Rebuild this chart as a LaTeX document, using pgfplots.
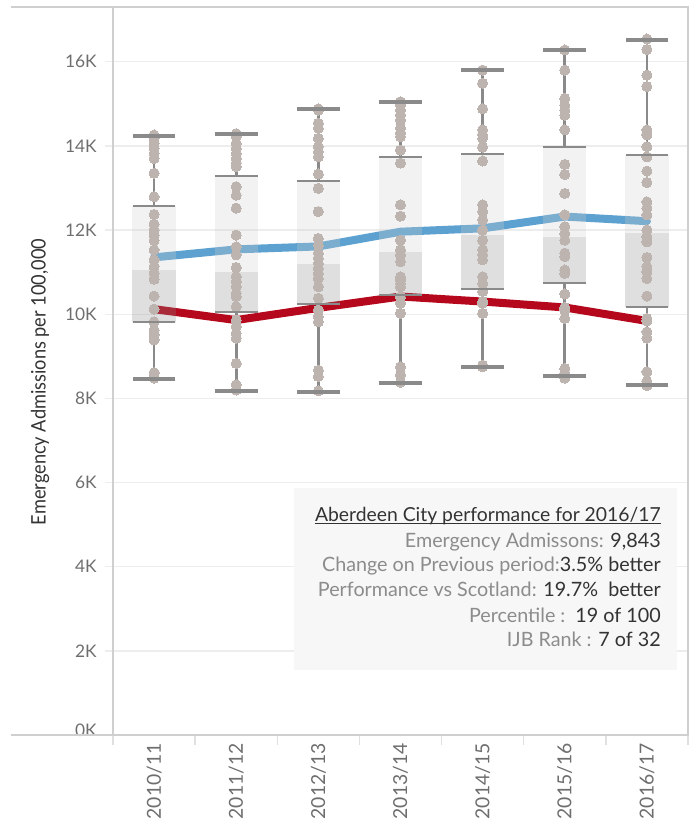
\documentclass[border=0pt]{standalone}
\usepackage{graphicx}
\usepackage{pgfplots}
\pgfplotsset{compat=1.18}
\usepackage{pgfplotstable}
\usepackage{fontspec}
\setmainfont{Lato}
\definecolor{whisk}{HTML}{8A8A8A}
\definecolor{dotc}{HTML}{BDB3AF}
\definecolor{blueL}{HTML}{5CA1CF}
\definecolor{redL}{HTML}{B5081D}
\definecolor{tickc}{HTML}{6E6E6E}
\definecolor{labc}{HTML}{8C8C8C}
\definecolor{valc}{HTML}{333333}
\definecolor{framec}{HTML}{CFCFCF}
\definecolor{gridc}{HTML}{EDEDED}
\definecolor{annbg}{HTML}{F7F7F7}

\pgfplotstableread{
x lo q1 med q3 hi blue red
0 8.46 9.82 11.05 12.58 14.24 11.35 10.12
1 8.18 10.05 11.00 13.29 14.29 11.54 9.86
2 8.16 10.25 11.19 13.17 14.88 11.61 10.15
3 8.36 10.46 11.47 13.74 15.05 11.96 10.42
4 8.75 10.61 11.88 13.81 15.80 12.04 10.30
5 8.52 10.74 11.83 13.98 16.28 12.32 10.16
6 8.32 10.18 11.94 13.78 16.52 12.21 9.84
}\stats

\pgfplotstableread{
x y
0 14.26
0 14.18
0 14.06
0 13.94
0 13.82
0 13.70
0 13.35
0 12.79
0 12.37
0 12.14
0 12.00
0 11.88
0 11.75
0 11.53
0 11.29
0 11.13
0 10.97
0 10.83
0 10.43
0 10.12
0 9.82
0 9.62
0 9.51
0 9.39
0 8.61
0 8.48
1 14.29
1 14.22
1 14.06
1 13.94
1 13.82
1 13.70
1 13.59
1 13.51
1 13.03
1 12.83
1 12.52
1 11.88
1 11.60
1 11.41
1 11.11
1 10.89
1 10.77
1 10.65
1 10.50
1 10.42
1 10.18
1 9.86
1 9.70
1 9.55
1 9.43
1 8.83
1 8.32
1 8.20
2 14.88
2 14.85
2 14.54
2 14.42
2 14.18
2 13.98
2 13.86
2 13.74
2 13.33
2 12.99
2 12.44
2 11.80
2 11.64
2 11.45
2 11.33
2 11.21
2 11.09
2 10.97
2 10.85
2 10.65
2 10.38
2 10.10
2 9.94
2 9.82
2 8.67
2 8.52
2 8.18
3 15.05
3 14.97
3 14.85
3 14.73
3 14.61
3 14.42
3 14.30
3 14.22
3 13.90
3 13.59
3 12.60
3 12.33
3 11.76
3 11.53
3 11.41
3 11.25
3 10.89
3 10.81
3 10.73
3 10.65
3 10.40
3 10.26
3 10.02
3 8.75
3 8.56
3 8.38
4 15.80
4 15.49
4 14.88
4 14.38
4 14.26
4 14.18
4 13.97
4 13.64
4 12.60
4 12.44
4 12.24
4 12.00
4 11.76
4 11.53
4 11.41
4 11.29
4 10.89
4 10.73
4 10.54
4 10.30
4 10.26
4 10.02
4 8.79
4 8.75
5 16.28
5 15.80
5 15.13
5 14.97
5 14.85
5 14.73
5 14.38
5 13.56
5 13.32
5 12.87
5 12.36
5 12.08
5 11.92
5 11.76
5 11.45
5 11.37
5 11.05
5 10.97
5 10.48
5 10.16
5 10.10
5 9.90
5 8.71
5 8.60
5 8.48
6 16.54
6 16.29
6 15.68
6 15.41
6 14.38
6 14.26
6 13.98
6 13.74
6 13.40
6 13.13
6 12.67
6 12.52
6 12.36
6 12.00
6 11.84
6 11.72
6 11.35
6 11.13
6 11.01
6 10.85
6 10.43
6 9.90
6 9.84
6 9.58
6 9.43
6 8.63
6 8.40
6 8.30
}\dotsdata

\begin{document}
\begin{tikzpicture}
\path[use as bounding box] (-84.75pt,-70.5pt) rectangle (435.75pt,551.25pt);
\begin{axis}[
  at={(0,0)}, anchor=south west,
  scale only axis, width=431.25pt, height=546pt,
  xmin=-0.5, xmax=6.5, ymin=0, ymax=17.3,
  clip=false,
  axis line style={draw=framec, line width=1pt},
  tick pos=left,
  xtick={0,1,2,3,4,5,6},
  xticklabels={2010/11,2011/12,2012/13,2013/14,2014/15,2015/16,2016/17},
  minor xtick={-0.5,0.5,1.5,2.5,3.5,4.5,5.5,6.5},
  ytick={0,2,4,6,8,10,12,14,16},
  yticklabels={\raisebox{7.5pt}{0K},2K,4K,6K,8K,10K,12K,14K,16K},
  ymajorgrids, major grid style={draw=gridc, line width=1pt},
  tick align=outside,
  major tick length=6pt, minor tick length=7.5pt,
  major x tick style={draw=none},
  minor x tick style={draw=black!12, line width=1pt},
  major y tick style={draw=gridc, line width=1pt},
  yticklabel style={font=\fontsize{13}{15}\selectfont, text=tickc, inner sep=0pt, xshift=-6pt},
  xticklabel style={font=\fontsize{14.5}{16}\selectfont, text=tickc, rotate=90, anchor=east, inner sep=0pt},
  ylabel={\scalebox{0.91}[1]{Emergency Admissions per 100,000}},
  ylabel style={at={(axis description cs:-0.127,0.485)}, anchor=center, font=\fontsize{15}{17}\selectfont, text=valc},
]
% dots
\addplot[only marks, color=dotc, mark=*, mark size=3.8pt, mark options={draw=dotc, fill=dotc, line width=0pt}, forget plot] table[x=x,y=y] {\dotsdata};
% lines
\addplot[blueL, line width=6pt, line cap=round, line join=round, forget plot] table[x=x,y=blue] {\stats};
\addplot[redL, line width=6pt, line cap=round, line join=round, forget plot] table[x=x,y=red] {\stats};
% boxes (semi-transparent)
\addplot[draw=none, no markers, forget plot, error bars/.cd, y dir=plus, y explicit, error mark=none,
  error bar style={line width=32.5pt, draw=black!46, draw opacity=0.27, line cap=butt}]
  table[x=x, y=q1, y error expr=\thisrow{med}-\thisrow{q1}] {\stats};
\addplot[draw=none, no markers, forget plot, error bars/.cd, y dir=plus, y explicit, error mark=none,
  error bar style={line width=32.5pt, draw=black!19, draw opacity=0.27, line cap=butt}]
  table[x=x, y=med, y error expr=\thisrow{q3}-\thisrow{med}] {\stats};
% whiskers
\addplot[draw=none, no markers, forget plot, error bars/.cd, y dir=minus, y explicit, error mark=none,
  error bar style={line width=2pt, draw=whisk, line cap=butt}]
  table[x=x, y=q1, y error expr=\thisrow{q1}-\thisrow{lo}] {\stats};
\addplot[draw=none, no markers, forget plot, error bars/.cd, y dir=plus, y explicit, error mark=none,
  error bar style={line width=2pt, draw=whisk, line cap=butt}]
  table[x=x, y=q3, y error expr=\thisrow{hi}-\thisrow{q3}] {\stats};
% quartile lines
\addplot[only marks, color=whisk, mark=-, mark size=16pt, mark options={draw=whisk, line width=1.5pt}, forget plot] table[x=x,y=q1] {\stats};
\addplot[only marks, color=whisk, mark=-, mark size=16pt, mark options={draw=whisk, line width=1.5pt}, forget plot] table[x=x,y=q3] {\stats};
% caps
\addplot[only marks, color=whisk, mark=-, mark size=16pt, mark options={draw=whisk, line width=3pt}, forget plot] table[x=x,y=lo] {\stats};
\addplot[only marks, color=whisk, mark=-, mark size=16pt, mark options={draw=whisk, line width=3pt}, forget plot] table[x=x,y=hi] {\stats};
% frame extensions
\draw[framec, line width=1pt] (axis description cs:-0.1774,1) -- (axis description cs:0,1);
\draw[framec, line width=1pt] (axis description cs:-0.1774,0) -- (axis description cs:0,0);
% annotation
\fill[annbg] (axis description cs:0.3148,0.0893) rectangle (axis description cs:0.981,0.3393);
\node[anchor=base east, inner sep=0pt, font=\fontsize{14.5}{16}\selectfont, text=valc] (ttl) at (axis description cs:0.953,0.2926) {Aberdeen City performance for 2016/17};
\draw[valc, line width=0.8pt] ([yshift=-1.2pt]ttl.base west) -- ([yshift=-1.2pt]ttl.base east);
\node[anchor=base east, inner sep=0pt, font=\fontsize{14.8}{16}\selectfont] at (axis description cs:0.953,0.2582) {\textcolor{labc}{Emergency Admissons:} \textcolor{valc}{9,843}};
\node[anchor=base east, inner sep=0pt, font=\fontsize{14.8}{16}\selectfont] at (axis description cs:0.953,0.2239) {\textcolor{labc}{Change on Previous period:}\textcolor{valc}{3.5\% better}};
\node[anchor=base east, inner sep=0pt, font=\fontsize{14.8}{16}\selectfont] at (axis description cs:0.953,0.1896) {\textcolor{labc}{Performance vs Scotland:} \textcolor{valc}{19.7\%\ \ better}};
\node[anchor=base east, inner sep=0pt, font=\fontsize{14.8}{16}\selectfont] at (axis description cs:0.953,0.1552) {\textcolor{labc}{Percentile :}\ \ \textcolor{valc}{19 of 100}};
\node[anchor=base east, inner sep=0pt, font=\fontsize{14.8}{16}\selectfont] at (axis description cs:0.953,0.1209) {\textcolor{labc}{IJB Rank :} \textcolor{valc}{7 of 32}};
\end{axis}
\end{tikzpicture}
\end{document}
